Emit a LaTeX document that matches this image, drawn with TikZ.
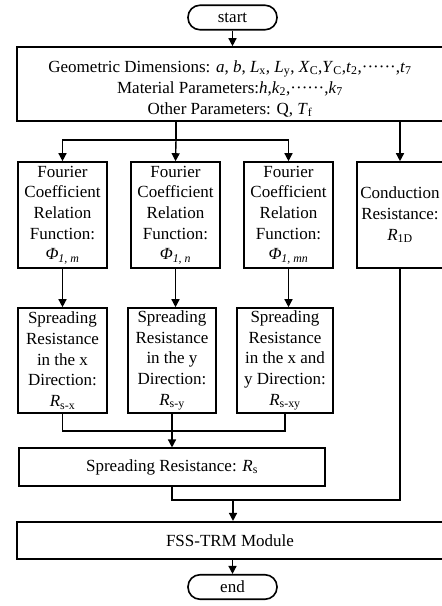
\documentclass[tikz,border=0pt]{standalone}
\usepackage{fontspec}
\setmainfont{Liberation Serif}
\usetikzlibrary{arrows.meta,positioning}
\newcommand{\vsub}[2]{\textit{#1}\textsubscript{#2}}
\newcommand{\phisub}[1]{\textit{Φ}\textsubscript{\textit{#1}}}
\tikzset{
  every node/.style={font=\fontsize{17}{20.7}\selectfont},
  blk/.style={draw, line width=1.6pt, inner sep=0pt, align=center},
  trm/.style={blk, rounded corners=12pt, minimum width=89pt, minimum height=24.5pt},
  fcr/.style={blk, minimum width=89pt, minimum height=106pt},
  srb/.style={blk, minimum height=105pt},
  wide/.style={blk, minimum height=37.5pt},
  ar/.style={-{Triangle[length=8pt,width=8pt]}, line width=1.4pt},
  ln/.style={line width=1.4pt},
}
\begin{document}
\begin{tikzpicture}[x=1pt, y=-1pt]
\useasboundingbox (0,0) rectangle (442,606);

\node[trm] (start) at (232.5,17.5) {start};

\node[blk, minimum width=426pt, minimum height=74pt, font=\fontsize{17}{21}\selectfont] (param) at (230,84)
  {\rule{0pt}{21pt}Geometric Dimensions: \textit{a}, \textit{b}, \vsub{L}{x}, \vsub{L}{y}, \vsub{X}{C},\vsub{Y}{C},\vsub{t}{2},······,\vsub{t}{7}\\
   Material Parameters:\textit{h},\vsub{k}{2},······,\vsub{k}{7}\\
   Other Parameters: Q, \vsub{T}{f}};

% Fourier coefficient row
\node[fcr] (fcrx) at (62.5,215) {Fourier\\Coefficient\\Relation\\Function:\\\phisub{1, m}};
\node[fcr] (fcry) at (175.5,215) {Fourier\\Coefficient\\Relation\\Function:\\\phisub{1, n}};
\node[fcr] (fcrxy) at (288.5,215) {Fourier\\Coefficient\\Relation\\Function:\\\phisub{1, mn}};
\node[fcr, minimum width=86pt] (cond) at (400,215) {Conduction\\Resistance:\\\vsub{R}{1D}};

% spreading resistance row
\node[srb, minimum width=89pt] (srx) at (62.5,360.5) {Spreading\\Resistance\\in the x\\Direction:\\\vsub{R}{s-x}};
\node[srb, minimum width=88pt] (sry) at (172,360.5) {Spreading\\Resistance\\in the y\\Direction:\\\vsub{R}{s-y}};
\node[srb, minimum width=96pt] (srxy) at (285,360.5) {Spreading\\Resistance\\in the x and\\y Direction:\\\vsub{R}{s-xy}};

\node[wide, minimum width=306pt] (rs) at (172,467) {Spreading Resistance: \vsub{R}{s}};
\node[wide, minimum width=426pt] (fss) at (230,540.5) {FSS-TRM Module};
\node[trm] (end) at (232.5,587) {end};

\coordinate (split) at (176,140);
\coordinate (join) at (172,431);
\coordinate (merge) at (233,500);

\draw[ar] (start) -- (param.north -| start);
\draw[ln] (param.south -| split) -- (split);
\draw[ar] (split) -| (fcrx.north);
\draw[ar] (split) -- (fcry.north |- fcry.north);
\draw[ar] (split) -| (fcrxy.north);
\draw[ar] (param.south -| cond) -- (cond.north);

\draw[ar] (fcrx) -- (srx);
\draw[ar] (fcry.south) -- (fcry.south |- sry.north);
\draw[ar] (fcrxy.south) -- (fcrxy.south |- srxy.north);

\draw[ln] (srx.south) |- (join) -| (srxy.south);
\draw[ar] (sry) -- (rs);

\draw[ln] (rs.south) |- (merge) -| (cond.south);
\draw[ar] (merge) -- (merge |- fss.north);
\draw[ar] (fss.south -| end) -- (end);
\end{tikzpicture}
\end{document}
